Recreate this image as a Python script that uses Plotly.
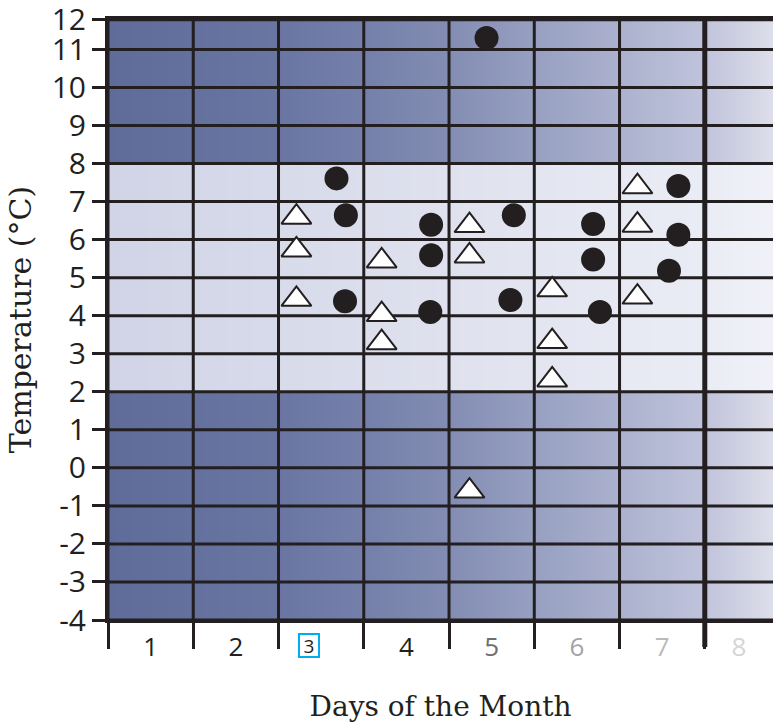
import numpy as np
import plotly.graph_objects as go

# ---------------- data ----------------
days = [1, 2, 3, 4, 5, 6, 7, 8]
x_tick_labels = ["1", "2", "3", "4", "5", "6", "7", "8"]
x_label_colors = ["#231f20", "#231f20", "#231f20", "#231f20",
                  "#6d6e71", "#a2a3a6", "#b9babc", "#d4d5d6"]
highlight_day = 3

# the chart's top edge (labelled "12") sits a little closer to 11
y_tick_vals = [-4, -3, -2, -1, 0, 1, 2, 3, 4, 5, 6, 7, 8, 9, 10, 11, 11.78]
y_tick_labels = ["-4", "-3", "-2", "-1", "0", "1", "2", "3", "4", "5",
                 "6", "7", "8", "9", "10", "11", "12"]

circle_x = [3.18, 3.29, 3.28, 4.29, 4.29, 4.28, 4.94, 5.26, 5.22,
            6.19, 6.19, 6.27, 7.19, 7.19, 7.08]
circle_y = [7.61, 6.64, 4.38, 6.39, 5.59, 4.10, 11.3, 6.64, 4.41,
            6.41, 5.48, 4.10, 7.41, 6.13, 5.18]

triangle_x = [2.71, 2.71, 2.71, 3.71, 3.71, 3.71, 4.74, 4.74, 4.74,
              5.71, 5.71, 5.71, 6.71, 6.71, 6.71]
triangle_y = [6.59, 5.73, 4.43, 5.44, 4.03, 3.29, 6.37, 5.57, -0.61,
              4.68, 3.32, 2.31, 7.39, 6.38, 4.49]

# column boundaries and temperature bands
col_edges = [0.5, 1.5, 2.5, 3.5, 4.5, 5.5, 6.5, 7.5]
thick_edge = 7.5
x_max = 8.3
band_edges = [-4, 2, 8, 11.78]
band_is_dark = [True, False, True]
y_pad = 0.02

# ---------------- styling ----------------
INK = "#231f20"
dark_stops = [(0.5, "#5f6b98"), (2.5, "#6a76a2"), (3.5, "#7480aa"),
              (4.5, "#838db3"), (5.5, "#97a0c1"), (6.5, "#abb1ce"),
              (7.5, "#c0c3db"), (8.3, "#dcdee9")]
light_stops = [(0.5, "#d0d4e6"), (4.5, "#dfe1ee"), (7.5, "#eaecf5"),
               (8.3, "#f0f1f8")]

x0 = col_edges[0]
span = x_max - x0
colorscale = []
for xv, c in dark_stops:
    colorscale.append([((xv - x0) / span) / 3.0, c])
for xv, c in light_stops:
    colorscale.append([(2.0 + (xv - x0) / span) / 3.0, c])

nx = 500
xs = np.linspace(x0, x_max, nx + 1)
tnorm = ((xs[:-1] + xs[1:]) / 2 - x0) / span
z = [list(tnorm) if d else list(2.0 + tnorm) for d in band_is_dark]

fig = go.Figure()
fig.add_trace(go.Heatmap(x=xs, y=band_edges, z=z, zmin=0, zmax=3,
                         colorscale=colorscale, showscale=False,
                         hoverinfo="skip"))

# grid lines
gx, gy = [], []
for yv in y_tick_vals:
    gx += [x0, x_max, None]
    gy += [yv, yv, None]
for xv in col_edges:
    if xv == thick_edge:
        continue
    gx += [xv, xv, None]
    gy += [band_edges[0], band_edges[-1] + y_pad, None]
fig.add_trace(go.Scatter(x=gx, y=gy, mode="lines",
                         line=dict(color=INK, width=3),
                         hoverinfo="skip", showlegend=False))
fig.add_trace(go.Scatter(x=[thick_edge, thick_edge],
                         y=[band_edges[0], band_edges[-1] + y_pad],
                         mode="lines", line=dict(color=INK, width=5),
                         hoverinfo="skip", showlegend=False))

fig.add_trace(go.Scatter(x=triangle_x, y=triangle_y, mode="markers",
                         marker=dict(symbol="triangle-up", size=26,
                                     color="white",
                                     line=dict(color=INK, width=2)),
                         showlegend=False))
fig.add_trace(go.Scatter(x=circle_x, y=circle_y, mode="markers",
                         marker=dict(symbol="circle", size=24, color=INK,
                                     line=dict(width=0)),
                         showlegend=False))

# tick labels centred in the visible part of each day column
label_pos = [(max(d - 0.5, x0) + min(d + 0.5, x_max)) / 2 for d in days]
ticktext = []
for d, lab, col in zip(days, x_tick_labels, x_label_colors):
    if d == highlight_day:
        ticktext.append("")
    else:
        ticktext.append('<span style="color:%s">%s</span>' % (col, lab))

hi = days.index(highlight_day)
fig.add_annotation(x=label_pos[hi] - 0.14, xref="x", y=0, yref="paper",
                   yanchor="top", yshift=-13,
                   text=x_tick_labels[hi], showarrow=False,
                   font=dict(family="Open Sans", size=19,
                             color=x_label_colors[hi]),
                   width=18, height=21,
                   bordercolor="#00aeef", borderwidth=2, borderpad=0)

fig.add_shape(type="line", xref="x", yref="paper", x0=thick_edge,
              x1=thick_edge, y0=-0.045, y1=0,
              line=dict(color=INK, width=5))

fig.update_layout(
    width=773, height=723,
    margin=dict(l=108, r=0, t=19, b=103),
    paper_bgcolor="white", plot_bgcolor="white",
    showlegend=False,
    xaxis=dict(
        range=[x0, x_max], tickmode="array", tickvals=label_pos,
        ticktext=ticktext, ticks="outside", ticklen=2,
        tickcolor="rgba(0,0,0,0)",
        tickfont=dict(family="Open Sans", size=26, color=INK),
        showgrid=False, zeroline=False,
        showline=True, linecolor=INK, linewidth=3, mirror=True,
        layer="above traces",
        minor=dict(tickmode="array", tickvals=col_edges, ticks="outside",
                   ticklen=26, tickwidth=3, tickcolor=INK, showgrid=False),
        title=dict(text="Days of the Month", standoff=34,
                   font=dict(family="DejaVu Serif", size=28, color=INK)),
        automargin=False,
    ),
    yaxis=dict(
        range=[band_edges[0], band_edges[-1] + y_pad], tickmode="array",
        tickvals=y_tick_vals, ticktext=y_tick_labels,
        ticks="outside", ticklen=13, tickwidth=3, tickcolor=INK,
        tickfont=dict(family="Open Sans", size=30, color=INK),
        ticklabeloverflow="allow",
        showgrid=False, zeroline=False,
        showline=True, linecolor=INK, linewidth=3,
        layer="above traces",
        title=dict(text="Temperature (°C)", standoff=12,
                   font=dict(family="DejaVu Serif", size=30, color=INK)),
        automargin=False,
    ),
)

fig.write_html("out.html", config={"displayModeBar": False},
               post_script="document.body.style.margin='0';")
